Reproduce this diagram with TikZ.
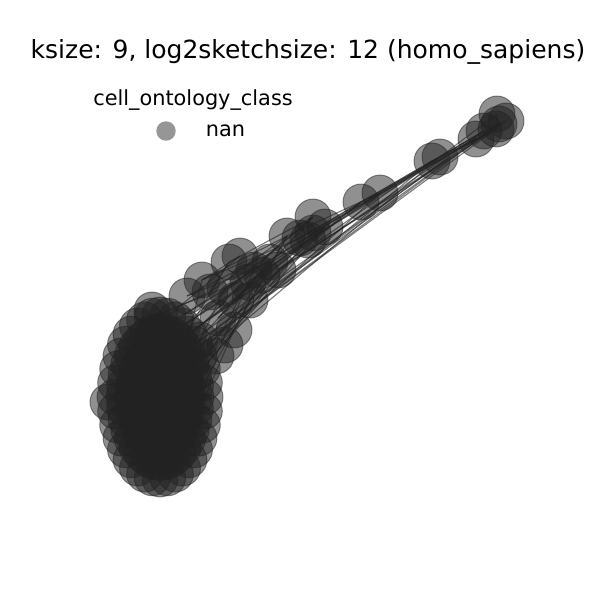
\documentclass[tikz,border=0pt]{standalone}
\usepackage{fontspec}
\setmainfont{DejaVu Sans}
\usepackage{xcolor}
\definecolor{nodedark}{RGB}{34,34,34}
\definecolor{legendgray}{RGB}{150,150,150}
\usepackage{tikz}
\usetikzlibrary{positioning}

\begin{document}
\begin{tikzpicture}[x=0.72pt,y=-0.72pt,
vert/.style={circle,inner sep=0pt,minimum size=25.9pt,fill=nodedark,draw=nodedark,line width=0.7pt,opacity=0.5},
link/.style={draw=nodedark,line width=0.8pt,opacity=0.6},
title/.style={font=\fontsize{18}{21}\selectfont,anchor=center},
legtext/.style={font=\fontsize{15}{18}\selectfont}]
\useasboundingbox (0,0) rectangle (600,600);
% title and legend
\node[title] (ttl) at (308,52) {ksize: 9, log2sketchsize: 12 (homo\_sapiens)};
\node[legtext] (legttl) at (193,100) {cell\_ontology\_class};
\node[circle,inner sep=0pt,minimum size=14pt,fill=legendgray] (legdot) at (166,131) {};
\node[legtext,anchor=west] (legnan) at (201,131) {nan};
% big cluster, rings of nodes (a = outer ring ... e = inner ring)
\foreach \s/\r in {1/a,0.8/b,0.6/c,0.4/d,0.2/e}
  \foreach \a in {0,10,...,350}
    \coordinate (\r\a) at ({160+45*\s*cos(\a)},{397+82*\s*sin(\a)});
\coordinate (bl) at (108,402);
\coordinate (btop) at (152,310);
% chain of nodes towards top right
\foreach \n/\x/\y in {t1/497/114,t2/506/121,t3/496/129,t4/484/131,t5/476/139,t6/499/124,
  u1/432/161,u2/440/157,v1/361/202,v2/380/193,
  w1/313/217,w2/325/227,w3/308/240,w4/300/238,w5/287/236,w6/313/233,
  x1/270/262,x2/278/270,x3/262/275,x4/240/256,x5/229/262,x6/254/270,x7/248/282,
  y1/202/280,y2/187/296,y3/210/292,y4/225/288,y5/236/300,y6/250/300,
  z1/218/318,z2/234/330,z3/225/345,z4/216/356,z5/200/340}
  \coordinate (\n) at (\x,\y);
% edges
\foreach \p/\q in {t1/t3,t2/t4,t6/t5,t4/u2,t5/u1,t3/u1,t1/u2,t5/v1,t4/w6,t6/w3,t3/x2,
  t5/w6,t4/v1,t2/x2,t3/w4,u1/w4,u2/w6,v1/w4,v2/w5,v1/x2,u1/x2,u2/w3,
  w1/x5,w2/x6,w3/x7,w4/y1,w5/y3,w6/y4,w1/y5,w2/y6,w3/z1,w5/z2,w6/x3,
  y1/x4,y3/x5,y4/x6,y5/x3,y6/x7,z1/x1,z2/x2,z3/w5,z4/x6,z5/y4,y2/w4,y1/w5,y2/x1,
  a300/w1,a310/w2,a320/x1,a330/x2,a290/w3,a300/x3,a310/y1,b310/t5,
  a320/t4,a310/v1,a280/x4,a290/x6,a340/w6,a300/v2,c300/w5,
  c330/u2,c300/x5,a270/y3,a340/x7,d300/t3,d0/w2,c0/x1,
  a350/y6,a0/z2,c270/w1,a260/y4,a320/t6,a310/y5,
  b300/t4,b320/t6,c320/u1,c330/v2}
  \draw[link] (\p) -- (\q);
% nodes
\foreach \r in {a,b,c,d,e}
  \foreach \a in {0,10,...,350}
    \node[vert] (n\r\a) at (\r\a) {};
\node[vert] (nbl) at (bl) {};
\node[vert] (nbtop) at (btop) {};
\foreach \n in {t1,t2,t3,t4,t5,t6,u1,u2,v1,v2,w1,w2,w3,w4,w5,w6,
  x1,x2,x3,x4,x5,x6,x7,y1,y2,y3,y4,y5,y6,z1,z2,z3,z4,z5}
  \node[vert] (n\n) at (\n) {};
\end{tikzpicture}
\end{document}
